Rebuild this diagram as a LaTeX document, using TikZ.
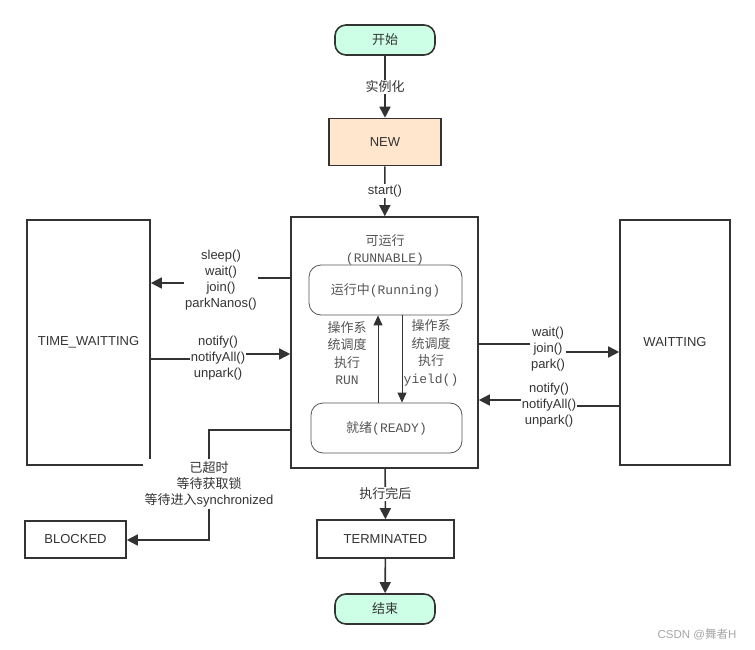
\documentclass[tikz,border=0pt]{standalone}
\usepackage{fontspec}
\setmainfont{Liberation Sans}
\newfontfamily\cjk{Noto Sans CJK SC}
\newfontfamily\mono{Liberation Mono}
\usepackage{xcolor}
\usetikzlibrary{arrows.meta}
\definecolor{ink}{HTML}{333333}
\definecolor{soft}{HTML}{555555}
\definecolor{mint}{HTML}{CCFFE6}
\definecolor{peach}{HTML}{FFE6CC}

\begin{document}
\begin{tikzpicture}[x=1pt,y=-1pt,
    every node/.style={text=ink,font=\fontsize{13}{16}\selectfont},
    state/.style={draw=ink,line width=1.6pt,inner sep=0pt},
    term/.style={state,fill=mint,rounded corners=11pt,minimum width=100pt,minimum height=30pt},
    inner/.style={draw=soft,line width=0.8pt,rounded corners=12pt,inner sep=0pt,text=soft},
    lbl/.style={fill=white,inner sep=1pt,align=center},
    sys/.style={align=center,text=soft,font=\fontsize{13}{17.5}\selectfont},
    flow/.style={draw=ink,line width=1.6pt,-{Triangle[length=11pt,width=11pt]}}]
    \useasboundingbox (0,0) rectangle (755,650);

    \node[term] (start) at (385,40) {\cjk 开始};
    \node[state,fill=peach,minimum width=112pt,minimum height=47pt] (new) at (385,142) {NEW};
    \node[state,minimum width=187pt,minimum height=251pt] (run) at (384.5,342.5) {};
    \node[sys] (runtitle) at (385,250) {{\cjk 可运行}\\{\mono (RUNNABLE)}};
    \node[inner,minimum width=153pt,minimum height=50pt] (running) at (385.5,290)
        {{\cjk 运行中}{\mono (Running)}};
    \node[inner,minimum width=151pt,minimum height=50pt] (ready) at (386.5,428)
        {{\cjk 就绪}{\mono (READY)}};
    \node[state,minimum width=123pt,minimum height=245pt] (timed) at (88.5,342.5) {TIME\_WAITTING};
    \node[state,minimum width=110pt,minimum height=245pt] (wait) at (675,342.5) {WAITTING};
    \node[state,minimum width=101pt,minimum height=37pt] (blocked) at (75.5,539.5) {BLOCKED};
    \node[state,minimum width=137pt,minimum height=38pt] (term) at (385.5,539) {TERMINATED};
    \node[term] (finish) at (385,609) {\cjk 结束};
    \coordinate (bend1) at (209,430);
    \coordinate (bend2) at (209,540);

    \draw[flow] (start) -- node[lbl] {\cjk 实例化} (new);
    \draw[flow] (new) -- node[lbl] {start()} (run);
    % % RUNNING <-> READY
    \draw[draw=ink,line width=1pt,-{Triangle[length=10pt,width=9pt]}] (ready.north -| 378,0) -- (running.south -| 378,0);
    \draw[draw=ink,line width=1pt,-{Triangle[length=10pt,width=9pt]}] (running.south -| 402,0) -- (ready.north -| 402,0);
    \node[sys] (toRun) at (347,353) {\cjk 操作系\\\cjk 统调度\\\cjk 执行\\{\mono RUN}};
    \node[sys] (toReady) at (431,353) {\cjk 操作系\\\cjk 统调度\\\cjk 执行\\{\mono yield()}};

    \draw[flow] (run.west |- 0,278) -- (221,278) -- (221,283) -- (timed.east |- 0,283);
    \node[lbl] (toTimed) at (221,280) {sleep()\\wait()\\join()\\parkNanos()};
    \draw[flow] (timed.east |- 0,359) -- (218,359) -- (218,354) -- (run.west |- 0,354);
    \node[lbl] (fromTimed) at (218,358) {notify()\\notifyAll()\\unpark()};
    \draw[flow] (run.east |- 0,344) -- (548,344) -- (548,352) -- (wait.west |- 0,352);
    \node[lbl] (toWait) at (548,349) {wait()\\join()\\park()};
    \draw[flow] (wait.west |- 0,406) -- (549,406) -- (549,400) -- (run.east |- 0,400);
    \node[lbl] (fromWait) at (549,405) {notify()\\notifyAll()\\unpark()};
    \draw[flow] (run.west |- bend1) -- (bend1) -- (bend2) -- (blocked.east |- bend2);
    \node[lbl,inner sep=2pt] (why) at (209,484) {\cjk 已超时\\\cjk 等待获取锁\\{\cjk 等待进入}synchronized};
    \draw[flow] (run) -- node[lbl] {\cjk 执行完后} (term);
    \draw[flow] (term) -- (finish);

    \node[text=gray!70,font=\fontsize{11.5}{13}\selectfont] (mark) at (697,634) {CSDN @{\cjk 舞者}H};
\end{tikzpicture}
\end{document}
